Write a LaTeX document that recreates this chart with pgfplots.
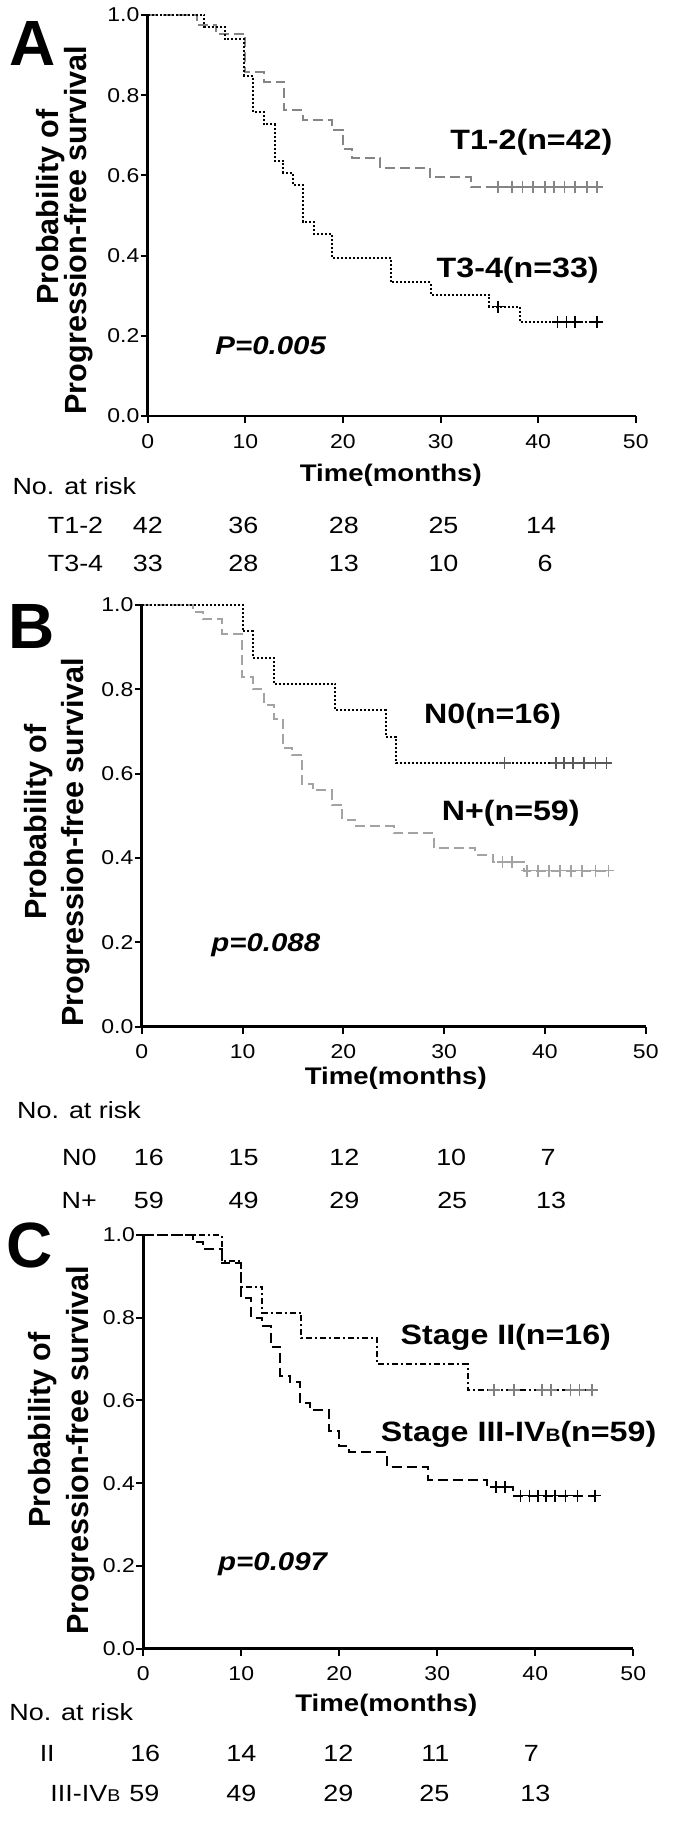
\documentclass[border=0pt]{standalone}
\usepackage{fontspec}
\setmainfont[FakeStretch=1.15]{Liberation Sans}
\newfontfamily\plainsf{Liberation Sans}
\usepackage{pgfplots}
\pgfplotsset{compat=1.18}

\definecolor{grayA}{HTML}{858585}
\definecolor{grayB}{HTML}{A3A3A3}

\newcommand\tickfont{\fontsize{10pt}{11pt}\selectfont}
\newcommand\riskfont{\fontsize{11.7pt}{13pt}\selectfont}
\newcommand\timefont{\fontsize{12pt}{14pt}\selectfont\bfseries}
\newcommand\curvefont{\fontsize{14pt}{16pt}\selectfont\bfseries}
\newcommand\pfont{\fontsize{12.8pt}{14pt}\selectfont\bfseries\itshape}
\newcommand\letterfont{\plainsf\fontsize{32pt}{34pt}\selectfont\bfseries}
\newcommand\ylabfont{\plainsf\fontsize{15.3pt}{17pt}\selectfont\bfseries}

\pgfplotsset{
  km/.style={
    scale only axis, clip=false, anchor=south west,
    xmin=0, xmax=50, ymin=0, ymax=1,
    axis x line=bottom, axis y line=left,
    axis line style={-, line width=1.4pt},
    xtick={0,10,20,30,40,50}, ytick={0,0.2,0.4,0.6,0.8,1},
    tick align=outside, major tick length=3.5pt,
    tick style={line width=1pt, black},
    /pgf/number format/assume math mode=true,
    y tick label style={/pgf/number format/fixed, /pgf/number format/fixed zerofill,
      /pgf/number format/precision=1, inner sep=0.5pt},
    x tick label style={yshift=-2pt},
    tick label style={font=\tickfont},
  },
  grayline/.style={const plot, line width=1pt, dash pattern=on 5pt off 2.5pt},
  dotline/.style={const plot, line width=1pt, dash pattern=on 1pt off 1pt},
  dashdotline/.style={const plot, line width=1pt, dash pattern=on 3pt off 1.5pt on 1pt off 1.5pt},
  cens/.style={only marks, mark=+, mark size=3pt, line width=0.8pt},
}

\begin{document}
\begin{tikzpicture}
\path (0,0) rectangle (342.5pt,-913.5pt);

% ---------------- A: T stage
\begin{axis}[km, at={(73.5pt,-208pt)}, width=244pt, height=200.5pt]
  \addplot[grayline, grayA] coordinates {
    (0,1) (5.0,0.976) (7.0,0.952) (10.0,0.857) (11.9,0.833) (14.0,0.762)
    (15.9,0.738) (18.9,0.714) (20.0,0.667) (20.9,0.643) (23.8,0.619)
    (28.9,0.595) (33.1,0.571) (46.0,0.571)
  };
  \addplot[cens, grayA] coordinates {
    (35.9,0.571) (37.3,0.571) (38.4,0.571) (39.5,0.571) (40.7,0.571)
    (41.6,0.571) (42.7,0.571) (43.8,0.571) (45.0,0.571) (46.0,0.571)
  };
  \addplot[dotline, black] coordinates {
    (0,1) (5.8,0.970) (7.9,0.939) (9.9,0.848) (10.8,0.758) (11.9,0.727)
    (13.0,0.636) (13.9,0.606) (14.9,0.576) (15.9,0.485) (17.0,0.455)
    (18.9,0.394) (24.9,0.333) (29.0,0.303) (35.0,0.273) (38.1,0.234) (46.0,0.234)
  };
  \addplot[cens, black] coordinates {
    (35.9,0.273) (42.0,0.234) (42.9,0.234) (43.8,0.234) (46.0,0.234)
  };
  \node[font=\curvefont] at (axis cs:39.3,0.683) {T1-2(n=42)};
  \node[font=\curvefont] at (axis cs:37.9,0.363) {T3-4(n=33)};
  \node[font=\pfont] at (axis cs:12.6,0.176) {P=0.005};
  \node[font=\timefont] at (axis cs:24.9,-0.147) {Time(months)};
  \node[font=\riskfont, anchor=west, inner sep=0pt] at (axis cs:-13.9,-0.176) {No. at risk};
  \node[font=\riskfont] at (axis cs:-7.4,-0.272) {T1-2};
  \node[font=\riskfont] at (axis cs:-7.4,-0.367) {T3-4};
  \node[font=\riskfont] at (axis cs:0,-0.272) {42};
  \node[font=\riskfont] at (axis cs:9.8,-0.272) {36};
  \node[font=\riskfont] at (axis cs:20.1,-0.272) {28};
  \node[font=\riskfont] at (axis cs:30.3,-0.272) {25};
  \node[font=\riskfont] at (axis cs:40.3,-0.272) {14};
  \node[font=\riskfont] at (axis cs:0,-0.367) {33};
  \node[font=\riskfont] at (axis cs:9.8,-0.367) {28};
  \node[font=\riskfont] at (axis cs:20.1,-0.367) {13};
  \node[font=\riskfont] at (axis cs:30.3,-0.367) {10};
  \node[font=\riskfont] at (axis cs:40.7,-0.367) {6};
\end{axis}

% ---------------- B: N stage
\begin{axis}[km, at={(70.5pt,-513.25pt)}, width=252pt, height=210.75pt]
  \addplot[grayline, grayB] coordinates {
    (0,1) (5.1,0.983) (6.1,0.966) (8.0,0.932) (9.9,0.830) (11.0,0.800)
    (12.1,0.763) (13.1,0.730) (14.0,0.661) (14.9,0.644) (15.9,0.576)
    (17.0,0.560) (18.9,0.525) (19.9,0.490) (21.2,0.475) (25.0,0.458)
    (29.0,0.424) (33.1,0.407) (34.8,0.390) (37.9,0.370) (46.3,0.370)
  };
  \addplot[cens, grayB] coordinates {
    (35.8,0.390) (36.7,0.390) (38.2,0.370) (39.3,0.370) (40.4,0.370)
    (41.5,0.370) (42.6,0.370) (43.7,0.370) (45.0,0.370) (46.3,0.370)
  };
  \addplot[dotline, black] coordinates {
    (0,1) (10.0,0.9375) (11.0,0.875) (13.1,0.8125) (19.2,0.75)
    (24.2,0.6875) (25.2,0.625) (46.1,0.625)
  };
  \addplot[cens, black!65] coordinates {
    (36.0,0.625) (41.1,0.625) (41.9,0.625) (42.8,0.625) (43.9,0.625)
    (45.0,0.625) (46.1,0.625)
  };
  \node[font=\curvefont] at (axis cs:34.8,0.737) {N0(n=16)};
  \node[font=\curvefont] at (axis cs:36.6,0.506) {N+(n=59)};
  \node[font=\pfont] at (axis cs:12.3,0.193) {p=0.088};
  \node[font=\timefont] at (axis cs:25.2,-0.122) {Time(months)};
  \node[font=\riskfont, anchor=west, inner sep=0pt] at (axis cs:-12.4,-0.199) {No. at risk};
  \node[font=\riskfont] at (axis cs:-6.2,-0.31) {N0};
  \node[font=\riskfont] at (axis cs:-6.2,-0.413) {N+};
  \node[font=\riskfont] at (axis cs:0.7,-0.31) {16};
  \node[font=\riskfont] at (axis cs:10.1,-0.31) {15};
  \node[font=\riskfont] at (axis cs:20.1,-0.31) {12};
  \node[font=\riskfont] at (axis cs:30.7,-0.31) {10};
  \node[font=\riskfont] at (axis cs:40.3,-0.31) {7};
  \node[font=\riskfont] at (axis cs:0.7,-0.413) {59};
  \node[font=\riskfont] at (axis cs:10.1,-0.413) {49};
  \node[font=\riskfont] at (axis cs:20.1,-0.413) {29};
  \node[font=\riskfont] at (axis cs:30.8,-0.413) {25};
  \node[font=\riskfont] at (axis cs:40.6,-0.413) {13};
\end{axis}

% ---------------- C: clinical stage
\begin{axis}[km, at={(71.25pt,-824.25pt)}, width=245pt, height=206.75pt]
  \addplot[dashdotline, black] coordinates {
    (0,1) (8.0,0.9375) (10.0,0.875) (12.1,0.8125) (16.1,0.75)
    (23.9,0.6875) (33.1,0.625) (45.8,0.625)
  };
  \addplot[cens, gray] coordinates {
    (35.8,0.625) (37.8,0.625) (40.7,0.625) (41.6,0.625) (43.6,0.625)
    (44.5,0.625) (45.8,0.625)
  };
  \addplot[grayline, black] coordinates {
    (0,1) (5.1,0.983) (6.1,0.966) (8.0,0.932) (10.0,0.847) (11.0,0.800)
    (12.1,0.780) (13.0,0.730) (14.0,0.660) (15.0,0.644) (16.0,0.593)
    (17.0,0.576) (19.0,0.525) (20.0,0.490) (21.0,0.475) (24.9,0.440)
    (29.1,0.407) (35.1,0.390) (37.7,0.370) (46.1,0.370)
  };
  \addplot[cens, black] coordinates {
    (36.0,0.390) (36.9,0.390) (38.5,0.370) (39.4,0.370) (40.3,0.370)
    (41.1,0.370) (42.0,0.370) (43.1,0.370) (44.3,0.370) (46.1,0.370)
  };
  \node[font=\curvefont] at (axis cs:37.0,0.753) {Stage II(n=16)};
  \node[font=\curvefont] at (axis cs:38.3,0.519) {Stage III-IV{\fontsize{9pt}{10pt}\selectfont B}(n=59)};
  \node[font=\pfont] at (axis cs:13.2,0.205) {p=0.097};
  \node[font=\timefont] at (axis cs:24.8,-0.137) {Time(months)};
  \node[font=\riskfont, anchor=west, inner sep=0pt] at (axis cs:-13.7,-0.153) {No. at risk};
  \node[font=\riskfont] at (axis cs:-9.8,-0.253) {II};
  \node[font=\riskfont, anchor=east, inner sep=0pt] at (axis cs:-2.3,-0.35) {III-IV{\fontsize{8.5pt}{10pt}\selectfont B}};
  \node[font=\riskfont] at (axis cs:0.2,-0.253) {16};
  \node[font=\riskfont] at (axis cs:10.0,-0.253) {14};
  \node[font=\riskfont] at (axis cs:19.9,-0.253) {12};
  \node[font=\riskfont] at (axis cs:29.8,-0.253) {11};
  \node[font=\riskfont] at (axis cs:39.6,-0.253) {7};
  \node[font=\riskfont] at (axis cs:0.1,-0.35) {59};
  \node[font=\riskfont] at (axis cs:10.0,-0.35) {49};
  \node[font=\riskfont] at (axis cs:19.9,-0.35) {29};
  \node[font=\riskfont] at (axis cs:29.7,-0.35) {25};
  \node[font=\riskfont] at (axis cs:40.0,-0.35) {13};
\end{axis}

% panel letters and y labels
\node[font=\letterfont] at (16pt,-21.75pt) {A};
\node[font=\letterfont] at (15.5pt,-313pt) {B};
\node[font=\letterfont] at (14.5pt,-622.5pt) {C};
\node[font=\ylabfont, rotate=90] at (25pt,-103.5pt) {Probability of};
\node[font=\ylabfont, rotate=90] at (39pt,-115pt) {Progression-free survival};
\node[font=\ylabfont, rotate=90] at (19pt,-411pt) {Probability of};
\node[font=\ylabfont, rotate=90] at (37.5pt,-421pt) {Progression-free survival};
\node[font=\ylabfont, rotate=90] at (21pt,-715pt) {Probability of};
\node[font=\ylabfont, rotate=90] at (40pt,-725pt) {Progression-free survival};
\end{tikzpicture}
\end{document}
